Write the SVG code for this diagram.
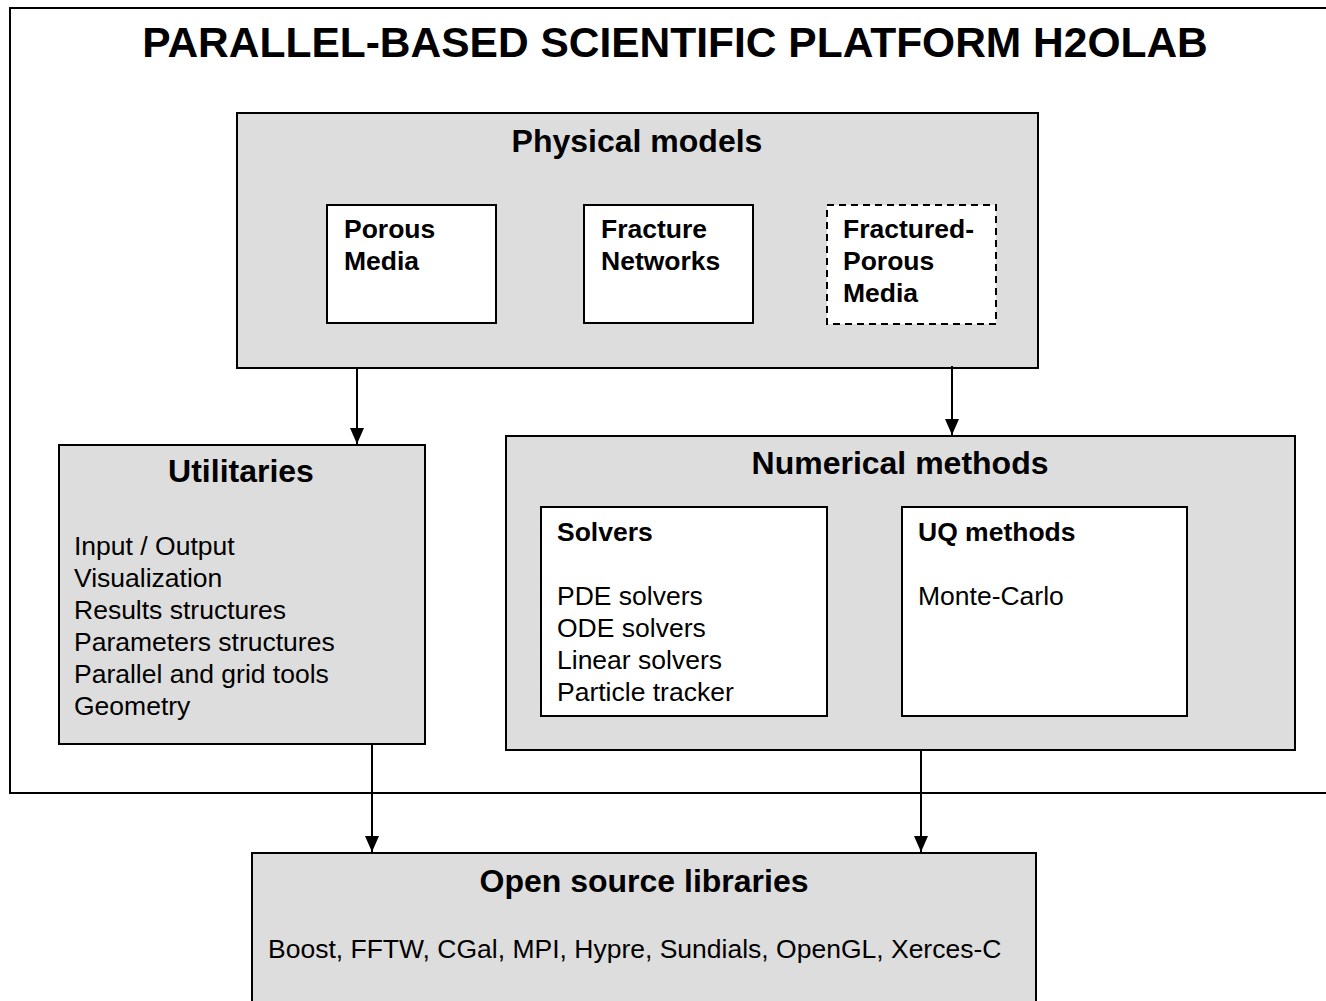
<svg xmlns="http://www.w3.org/2000/svg" width="1326" height="1001" viewBox="0 0 1326 1001">
<style>
text{font-family:"Liberation Sans",Arial,sans-serif;fill:#000}
.b{font-weight:bold}
.t1{font-size:42.5px;font-weight:bold}
.t2{font-size:32px;font-weight:bold}
.t3{font-size:26.5px}
.box{fill:#dddddd;stroke:#000;stroke-width:2}
.in{fill:#fff;stroke:#000;stroke-width:2}
.dash{fill:#fff;stroke:#000;stroke-width:2;stroke-dasharray:7,5}
.con{stroke:#000;stroke-width:2;fill:none}
</style>
<defs>
<marker id="ah" viewBox="0 0 16 14" refX="16" refY="7" markerWidth="16" markerHeight="14" markerUnits="userSpaceOnUse" orient="auto">
<path d="M0,0 L16,7 L0,14 z" fill="#000"/>
</marker>
</defs>
<rect width="1326" height="1001" fill="#fff"/>
<g id="frame">
<path d="M1326,8 H10 V793 H1326" fill="none" stroke="#000" stroke-width="2"/>
<text class="t1" x="675" y="57" text-anchor="middle">PARALLEL-BASED SCIENTIFIC PLATFORM H2OLAB</text>
</g>
<g id="physical-models">
<rect class="box" x="237" y="113" width="801" height="255"/>
<text class="t2" x="637" y="152" text-anchor="middle">Physical models</text>
</g>
<g id="porous-media">
<rect class="in" x="327" y="205" width="169" height="118"/>
<text class="t3 b" x="344" y="238">Porous</text>
<text class="t3 b" x="344" y="270">Media</text>
</g>
<g id="fracture-networks">
<rect class="in" x="584" y="205" width="169" height="118"/>
<text class="t3 b" x="601" y="238">Fracture</text>
<text class="t3 b" x="601" y="270">Networks</text>
</g>
<g id="fractured-porous-media">
<rect class="dash" x="827" y="205" width="169" height="119"/>
<text class="t3 b" x="843" y="238">Fractured-</text>
<text class="t3 b" x="843" y="270">Porous</text>
<text class="t3 b" x="843" y="302">Media</text>
</g>
<g id="utilitaries">
<rect class="box" x="59" y="445" width="366" height="299"/>
<text class="t2" x="241" y="482" text-anchor="middle">Utilitaries</text>
<text class="t3" x="74" y="555">Input / Output</text>
<text class="t3" x="74" y="587">Visualization</text>
<text class="t3" x="74" y="619">Results structures</text>
<text class="t3" x="74" y="651">Parameters structures</text>
<text class="t3" x="74" y="683">Parallel and grid tools</text>
<text class="t3" x="74" y="715">Geometry</text>
</g>
<g id="numerical-methods">
<rect class="box" x="506" y="436" width="789" height="314"/>
<text class="t2" x="900" y="474" text-anchor="middle">Numerical methods</text>
</g>
<g id="solvers">
<rect class="in" x="541" y="507" width="286" height="209"/>
<text class="t3 b" x="557" y="541">Solvers</text>
<text class="t3" x="557" y="605">PDE solvers</text>
<text class="t3" x="557" y="637">ODE solvers</text>
<text class="t3" x="557" y="669">Linear solvers</text>
<text class="t3" x="557" y="701">Particle tracker</text>
</g>
<g id="uq-methods">
<rect class="in" x="902" y="507" width="285" height="209"/>
<text class="t3 b" x="918" y="541">UQ methods</text>
<text class="t3" x="918" y="605">Monte-Carlo</text>
</g>
<g id="open-source-libraries">
<rect class="box" x="252" y="853" width="784" height="160"/>
<text class="t2" x="644" y="892" text-anchor="middle">Open source libraries</text>
<text class="t3" x="268" y="958">Boost, FFTW, CGal, MPI, Hypre, Sundials, OpenGL, Xerces-C</text>
</g>
<g id="connectors">
<line class="con" x1="357" y1="369" x2="357" y2="444" marker-end="url(#ah)"/>
<line class="con" x1="952" y1="366" x2="952" y2="435" marker-end="url(#ah)"/>
<line class="con" x1="372" y1="745" x2="372" y2="852" marker-end="url(#ah)"/>
<line class="con" x1="921" y1="751" x2="921" y2="852" marker-end="url(#ah)"/>
</g>
</svg>
